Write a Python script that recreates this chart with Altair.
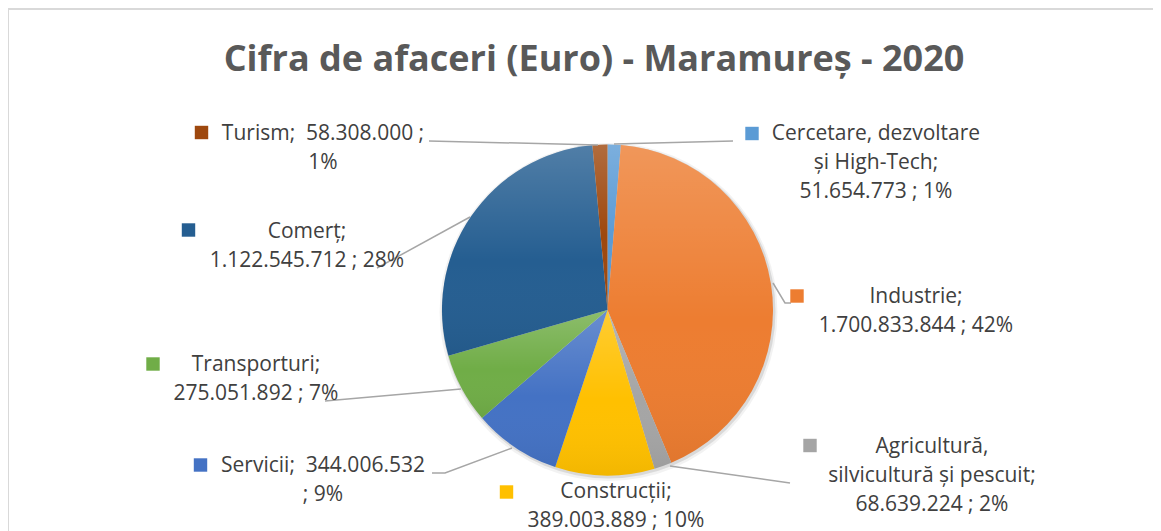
import math
import altair as alt
import pandas as pd

# ---------------- data ----------------
categories = ["Cercetare, dezvoltare și High-Tech", "Industrie",
              "Agricultură, silvicultură și pescuit", "Construcții",
              "Servicii", "Transporturi", "Comerț", "Turism"]
values = [51654773, 1700833844, 68639224, 389003889,
          344006532, 275051892, 1122545712, 58308000]
label_lines = [
    ["Cercetare, dezvoltare", "și High-Tech;", "51.654.773 ; 1%"],
    ["Industrie;", "1.700.833.844 ; 42%"],
    ["Agricultură,", "silvicultură și pescuit;", "68.639.224 ; 2%"],
    ["Construcții;", "389.003.889 ; 10%"],
    ["Servicii;\u00a0 344.006.532", "; 9%"],
    ["Transporturi;", "275.051.892 ; 7%"],
    ["Comerț;", "1.122.545.712 ; 28%"],
    ["Turism;\u00a0 58.308.000 ;", "1%"],
]
title_text = "Cifra de afaceri (Euro) - Maramureș - 2020"

# ---------------- styles / layout ----------------
colors = ["#5B9BD5", "#ED7D31", "#A5A5A5", "#FFC000",
          "#4472C4", "#70AD47", "#255E91", "#9E480E"]
OFF = 8  # page margin
W, H = 1145, 523
CX, CY, R = 607.5 - OFF, 310 - OFF, 165.5

label_cx = [876, 916, 932, 616, 323, 256, 307, 323]
label_y1 = [134, 297, 447, 492, 466, 365, 232, 134]
LINE_H = 29
square_pos = [(752, 133.5), (797, 296), (810, 445.5), (506.5, 492),
              (200.5, 465), (153, 364), (188.5, 230), (201.5, 132.5)]
leaders = [
    [(733, 141), (614, 144)],
    [(773, 283), (785, 303), (791, 303)],
    [(790, 483), (670, 466)],
    [],
    [(432, 473), (445, 473), (512, 448)],
    [(325, 401), (461, 389)],
    [(377, 268), (470, 217)],
    [(429, 141), (598, 145)],
]

# ---------------- tables ----------------
pie_df = pd.DataFrame({"cat": categories, "value": values,
                       "idx": list(range(len(categories)))})

txt_rows = []
for i, lines in enumerate(label_lines):
    for j, t in enumerate(lines):
        txt_rows.append({"cat": categories[i], "t": t,
                         "px": label_cx[i] - OFF,
                         "py": label_y1[i] + j * LINE_H - OFF})
txt_df = pd.DataFrame(txt_rows)

sq_df = pd.DataFrame({"cat": categories,
                      "px": [p[0] - OFF for p in square_pos],
                      "py": [p[1] - OFF for p in square_pos]})

ln_rows = []
for i, pts in enumerate(leaders):
    for k, (x, y) in enumerate(pts):
        ln_rows.append({"cat": categories[i], "k": k, "px": x - OFF, "py": y - OFF})
ln_df = pd.DataFrame(ln_rows)

color_scale = alt.Scale(domain=categories, range=colors)
FONT = "Open Sans"

# frame
frame = alt.Chart(pd.DataFrame({"a": [0]})).mark_rect(
    fill="white", stroke="#D9D9D9", strokeWidth=2
).encode(x=alt.value(0), x2=alt.value(W + 20), y=alt.value(1), y2=alt.value(H + 20))

# shadow
shadow1 = alt.Chart(pd.DataFrame({"a": [0]})).mark_arc(
    theta=0, theta2=2 * math.pi, radius=R + 3.5, fill="#000000", opacity=0.05
).encode(x=alt.value(CX + 1), y=alt.value(CY + 2))
shadow2 = alt.Chart(pd.DataFrame({"a": [0]})).mark_arc(
    theta=0, theta2=2 * math.pi, radius=R + 1.5, fill="#000000", opacity=0.10
).encode(x=alt.value(CX + 1), y=alt.value(CY + 1.5))

pie = alt.Chart(pie_df).mark_arc(radius=R).encode(
    theta=alt.Theta("value:Q", stack=True),
    color=alt.Color("cat:N", scale=color_scale, legend=None),
    order=alt.Order("idx:Q"),
    x=alt.value(CX), y=alt.value(CY),
)

grad = alt.Gradient(
    gradient="linear", x1=0, x2=0, y1=0, y2=1,
    stops=[alt.GradientStop(color="rgba(255,255,255,0.20)", offset=0),
           alt.GradientStop(color="rgba(255,255,255,0.0)", offset=0.55),
           alt.GradientStop(color="rgba(0,0,0,0.05)", offset=1)],
)
pie_shade = alt.Chart(pie_df).mark_arc(radius=R, fill=grad).encode(
    theta=alt.Theta("value:Q", stack=True),
    order=alt.Order("idx:Q"),
    x=alt.value(CX), y=alt.value(CY),
)

lines = alt.Chart(ln_df).mark_line(color="#A6A6A6", strokeWidth=1.5).encode(
    x=alt.X("px:Q", scale=None, axis=None),
    y=alt.Y("py:Q", scale=None, axis=None),
    detail="cat:N",
    order="k:Q",
)

squares = alt.Chart(sq_df).mark_square(size=180, opacity=1).encode(
    x=alt.X("px:Q", scale=None, axis=None),
    y=alt.Y("py:Q", scale=None, axis=None),
    color=alt.Color("cat:N", scale=color_scale, legend=None),
)

texts = alt.Chart(txt_df).mark_text(
    font=FONT, fontSize=21, color="#404040", align="center", baseline="middle"
).encode(
    x=alt.X("px:Q", scale=None, axis=None),
    y=alt.Y("py:Q", scale=None, axis=None),
    text="t:N",
)

title = alt.Chart(pd.DataFrame({"t": [title_text]})).mark_text(
    font=FONT, fontSize=36, fontWeight="bold", color="#595959",
    align="center", baseline="middle"
).encode(x=alt.value(594 - OFF), y=alt.value(60 - OFF), text="t:N")

chart = alt.layer(frame, shadow1, shadow2, pie, pie_shade, lines, squares, texts, title).properties(
    width=W, height=H, padding=0,
    autosize=alt.AutoSizeParams(type="none"),
    background="white",
).configure_view(stroke=None)

chart.save("out.html", embed_options={"renderer": "svg", "actions": False})
